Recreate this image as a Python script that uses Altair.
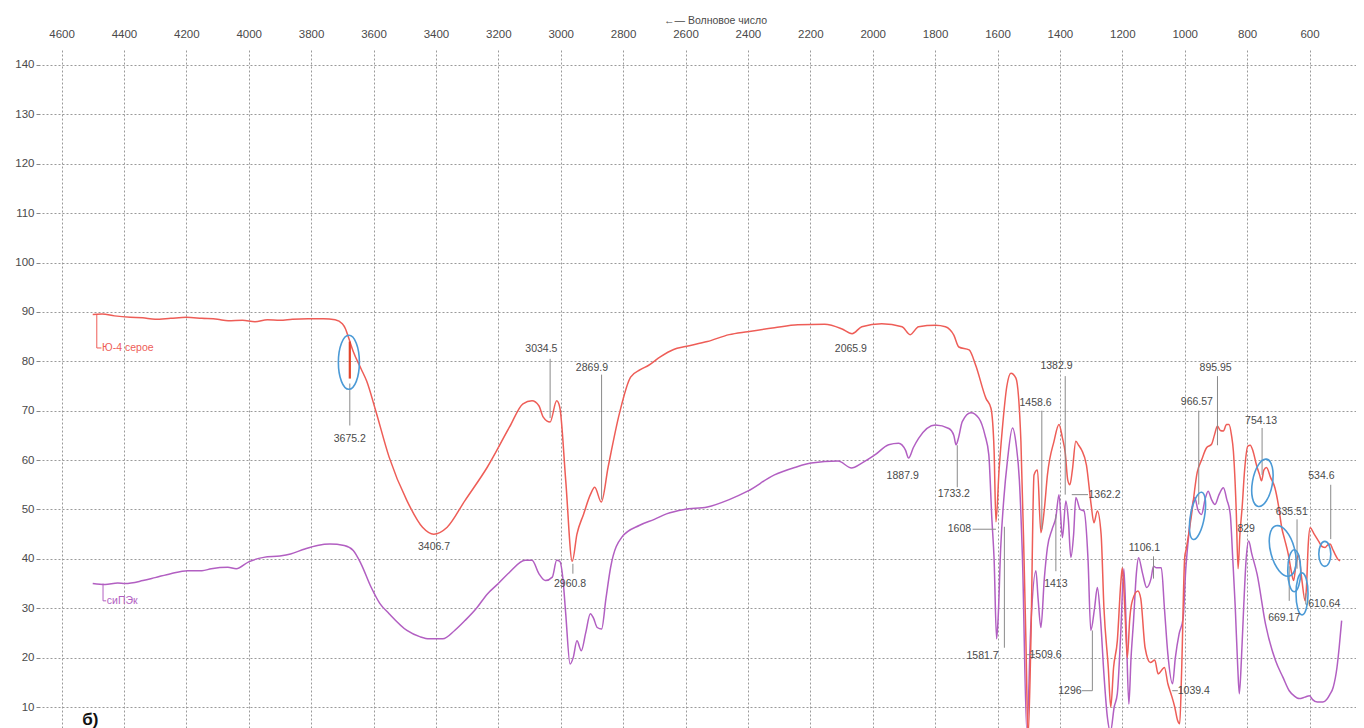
import altair as alt
import pandas as pd

# ---------------- data ----------------
red_wn = [4500, 4470, 4430, 4380, 4340, 4300, 4250, 4200, 4150, 4100, 4066, 4020, 3980, 3940, 3900, 3860,
          3809, 3760, 3723, 3700, 3690, 3680, 3665, 3640, 3622, 3593, 3550, 3493, 3443, 3407,
          3364, 3307, 3235, 3164, 3121, 3092, 3070, 3056, 3034, 3013, 3003, 2984, 2963, 2948, 2927, 2905,
          2891, 2870, 2848, 2812, 2776, 2745, 2718, 2681, 2638, 2600, 2530, 2460, 2401, 2315, 2240, 2154,
          2100, 2066, 2035, 1971, 1906, 1880, 1853, 1799, 1767, 1740, 1724, 1691, 1670, 1637, 1621, 1611,
          1605, 1595, 1585, 1570, 1557, 1541, 1525, 1515, 1509, 1502, 1493, 1483, 1472, 1461, 1450, 1440,
          1419, 1403, 1392, 1383, 1375, 1368, 1360, 1349, 1340, 1330, 1315, 1300, 1291, 1280, 1268, 1259,
          1245, 1237, 1228, 1216, 1205, 1200, 1192, 1184, 1176, 1168, 1150, 1141, 1127, 1110, 1096, 1085,
          1065, 1054, 1044, 1032, 1023, 1016, 1010, 1000, 995, 978, 960, 946, 930, 914, 905, 895,
          886, 876, 866, 858, 850, 844, 835, 829, 823, 816, 808, 798, 790, 781, 770, 760,
          754, 746, 738, 725, 711, 700, 689, 680, 668, 660, 651, 643, 635, 625, 614, 610,
          604, 598, 585, 571, 560, 550, 542, 534, 526, 518, 510, 502]
red_t = [89.5, 89.6, 89.2, 88.9, 88.8, 88.5, 88.7, 88.9, 88.7, 88.5, 88.2, 88.3, 88.0, 88.4, 88.3, 88.5,
         88.6, 88.6, 88.4, 87.6, 86.6, 84.8, 82.0, 78.5, 76.0, 70.0, 60.6, 51.8, 46.4, 45.0,
         46.4, 51.8, 58.6, 66.7, 71.4, 72.0, 71.0, 68.7, 67.7, 72.0, 70.7, 55.9, 39.5, 45.0, 49.0, 53.0,
         54.5, 51.5, 58.6, 69.4, 76.8, 78.3, 79.2, 80.9, 82.4, 83.0, 84.0, 85.4, 86.0, 86.8, 87.4, 87.5,
         86.6, 85.6, 87.0, 87.6, 87.0, 85.4, 87.0, 87.3, 87.0, 85.3, 82.9, 82.3, 79.2, 72.5, 70.5, 62.0,
         47.5, 58.0, 66.0, 75.0, 77.6, 76.6, 63.8, 40.0, 23.4, 4.0, 23.4, 57.0, 58.0, 45.3, 50.0, 57.0,
         63.8, 67.2, 64.5, 61.5, 56.0, 55.0, 58.0, 63.8, 63.0, 62.0, 59.0, 51.0, 47.3, 49.7, 45.0, 30.2,
         18.0, 10.0, 18.0, 23.4, 35.0, 38.2, 30.0, 20.0, 28.0, 31.5, 33.5, 32.0, 22.0, 19.0, 19.5, 16.7,
         18.0, 14.7, 12.7, 10.0, 7.3, 6.6, 17.0, 40.3, 42.0, 49.0, 57.5, 60.0, 62.5, 63.2, 65.0, 66.9,
         66.0, 65.9, 67.2, 67.2, 65.0, 61.8, 50.0, 38.0, 45.0, 50.4, 58.0, 62.8, 63.0, 61.8, 59.0, 57.0,
         55.8, 58.0, 58.5, 56.5, 54.4, 51.0, 46.3, 44.0, 40.9, 38.0, 35.6, 39.0, 40.9, 36.0, 31.5, 34.0,
         43.0, 46.3, 45.0, 43.6, 42.5, 42.3, 42.8, 43.0, 42.0, 40.9, 40.0, 39.6]

purple_wn = [4500, 4460, 4420, 4396, 4339, 4300, 4250, 4196, 4150, 4120, 4067, 4040, 4000, 3952, 3900, 3866,
             3820, 3780, 3740, 3694, 3665, 3640, 3608, 3580, 3550, 3493, 3450, 3421, 3378, 3340, 3307, 3270,
             3235, 3200, 3164, 3114, 3092, 3070, 3049, 3027, 3013, 3003, 2993, 2984, 2970, 2960, 2948, 2934,
             2920, 2905, 2895, 2883, 2869, 2855, 2840, 2804, 2747, 2700, 2661, 2604, 2530, 2460, 2401, 2315,
             2250, 2197, 2111, 2068, 2035, 1992, 1949, 1917, 1895, 1885, 1870, 1853, 1799, 1756, 1740, 1733,
             1725, 1713, 1685, 1660, 1640, 1628, 1618, 1611, 1603, 1598, 1590, 1580, 1568, 1552, 1540, 1530,
             1520, 1506, 1493, 1477, 1470, 1461, 1450, 1440, 1425, 1413, 1403, 1392, 1381, 1373, 1365, 1356,
             1349, 1335, 1323, 1310, 1301, 1289, 1280, 1270, 1259, 1248, 1238, 1226, 1216, 1205, 1195, 1187,
             1179, 1172, 1164, 1155, 1148, 1135, 1122, 1108, 1100, 1091, 1075, 1065, 1054, 1039, 1030, 1018,
             1005, 997, 989, 980, 968, 958, 946, 935, 925, 914, 903, 890, 876, 865, 854, 846,
             838, 830, 825, 818, 811, 803, 795, 785, 768, 741, 709, 685, 665, 650, 633, 615,
             600, 590, 575, 557, 545, 535, 524, 512, 505, 497]
purple_t = [35.0, 34.8, 35.1, 35.0, 35.6, 36.2, 37.0, 37.6, 37.6, 38.0, 38.3, 38.0, 39.4, 40.3, 40.6, 41.0,
            42.0, 42.7, 43.0, 42.7, 41.7, 39.0, 34.3, 31.0, 28.9, 25.5, 24.2, 23.8, 23.8, 25.5, 27.5, 30.0,
            32.9, 35.0, 37.3, 39.7, 39.7, 37.0, 35.6, 36.3, 39.7, 39.5, 36.0, 28.9, 18.7, 20.0, 23.4, 21.4,
            25.0, 28.9, 28.0, 26.1, 25.8, 32.0, 38.3, 44.4, 46.8, 48.0, 49.1, 50.0, 50.5, 52.0, 53.7, 57.0,
            58.5, 59.4, 59.8, 58.4, 59.4, 61.1, 63.1, 63.4, 62.0, 60.4, 62.5, 64.4, 67.1, 66.4, 65.0, 63.1,
            64.5, 67.8, 69.6, 68.5, 65.0, 61.1, 48.0, 40.0, 23.8, 28.0, 42.0, 52.0, 60.0, 66.5, 63.0, 56.0,
            40.0, 5.0, 26.8, 37.6, 32.0, 26.1, 36.0, 42.3, 46.0, 48.4, 53.0, 44.3, 51.7, 48.0, 40.3, 45.0,
            52.4, 50.0, 49.7, 40.0, 25.5, 30.0, 34.2, 28.0, 16.7, 8.0, 5.0, 10.0, 12.7, 25.0, 38.0, 25.0,
            10.6, 20.0, 27.5, 37.0, 40.2, 37.0, 34.2, 36.0, 38.5, 38.2, 38.2, 30.0, 20.7, 14.7, 20.0, 24.8,
            28.0, 37.5, 43.6, 49.0, 52.4, 50.0, 49.0, 52.0, 53.7, 52.0, 51.0, 53.0, 54.4, 52.0, 49.0, 40.0,
            30.2, 18.0, 12.7, 20.0, 30.2, 40.0, 43.6, 41.0, 36.9, 26.8, 19.4, 16.0, 13.3, 12.3, 11.7, 12.0,
            12.3, 11.5, 11.0, 11.0, 11.5, 12.5, 14.0, 18.0, 22.0, 27.5]

series_names = ["Ю-4 серое", "сиПЭк"]

x_ticks = [4600, 4400, 4200, 4000, 3800, 3600, 3400, 3200, 3000, 2800, 2600, 2400, 2200, 2000,
           1800, 1600, 1400, 1200, 1000, 800, 600]
y_ticks = [10, 20, 30, 40, 50, 60, 70, 80, 90, 100, 110, 120, 130, 140]

peak_labels = ["3675.2", "3406.7", "3034.5", "2869.9", "2960.8", "2065.9", "1887.9", "1733.2",
               "1608", "1581.7", "1509.6", "1458.6", "1382.9", "1362.2", "1413", "1296", "1106.1",
               "1039.4", "966.57", "895.95", "829", "754.13", "635.51", "669.17", "534.6"]
peak_label_wn = [3676, 3406, 3062, 2900, 2970, 2070, 1904, 1740, 1722, 1648, 1446, 1478, 1411, 1257,
                 1413, 1368, 1129, 971, 961, 901, 803, 755, 657, 681, 562]
peak_label_t = [64.3, 42.4, 82.5, 78.7, 34.9, 82.4, 56.7, 53.2, 46.0, 20.4, 20.6, 71.6, 79.0, 53.0,
                35.0, 13.3, 42.2, 13.3, 71.7, 78.7, 46.0, 68.0, 49.4, 28.0, 56.8]

# left-aligned labels
side_labels = ["610.64"]
side_label_wn = [604]
side_label_t = [30.8]

# leader lines (wn1, t1, wn2, t2)
lead_wn1 = [3676, 3034, 2869, 2961, 1729, 1680, 1578, 1505, 1458, 1383, 1362, 1413, 1330, 1296,
            1100, 1040, 955, 895, 752, 640, 665, 612, 612, 532]
lead_t1 = [75.5, 80.5, 77.3, 39.0, 63.0, 46.0, 46.5, 20.6, 70.0, 77.0, 53.0, 37.5, 13.3, 13.3,
           40.5, 13.3, 70.0, 77.0, 66.5, 48.0, 31.5, 33.0, 30.8, 55.0]
lead_wn2 = [3676, 3034, 2869, 2961, 1729, 1605, 1578, 1480, 1458, 1383, 1310, 1413, 1296, 1296,
            1100, 1022, 955, 895, 752, 640, 665, 612, 606, 532]
lead_t2 = [67.0, 68.5, 52.0, 37.0, 54.5, 46.0, 22.0, 20.6, 46.0, 53.0, 53.0, 49.0, 13.3, 25.5,
           36.0, 13.3, 51.0, 63.0, 57.0, 38.0, 38.5, 30.8, 30.8, 44.0]

# the short marked band inside the first ellipse
spike_wn = [3676]
spike_t1 = [84.0]
spike_t2 = [76.5]

# series-name callouts
name_wn = [4470, 4455]
name_t = [82.7, 31.5]
name_lead_wn1 = [4487, 4487, 4467, 4467]
name_lead_t1 = [89.5, 82.7, 35.0, 31.5]
name_lead_wn2 = [4487, 4472, 4467, 4457]
name_lead_t2 = [82.7, 82.7, 31.5, 31.5]
name_lead_series = ["Ю-4 серое", "Ю-4 серое", "сиПЭк", "сиПЭк"]

# blue marking ellipses: centre and rough aspect
ell_wn = [3679, 959, 751, 686, 649, 624, 551]
ell_t = [79.8, 48.7, 55.4, 41.6, 37.6, 32.9, 41.0]
ell_h = [54, 48, 48, 52, 42, 42, 25]
ell_w = [21, 14, 20, 24, 13, 12, 12]
ell_angle = [0, 10, 10, 345, 0, 0, 0]

panel_label = "б)"

# ---------------- build frames ----------------
RED = "#ee5d57"
SPIKE = "#e2452a"
PURPLE = "#b25fc2"
BLUE = "#4b9ad6"
TXT = "#4a4a4a"
FONT = "Liberation Sans Narrow, Liberation Sans, Arial, sans-serif"

curves = pd.concat([
    pd.DataFrame({"wn": purple_wn, "t": purple_t, "s": series_names[1]}),
    pd.DataFrame({"wn": red_wn, "t": red_t, "s": series_names[0]}),
])

labels_df = pd.DataFrame({"wn": peak_label_wn, "t": peak_label_t, "txt": peak_labels})
side_df = pd.DataFrame({"wn": side_label_wn, "t": side_label_t, "txt": side_labels})
lead_df = pd.DataFrame({"x": lead_wn1, "y": lead_t1, "x2": lead_wn2, "y2": lead_t2})
spike_df = pd.DataFrame({"x": spike_wn, "y": spike_t1, "y2": spike_t2})
name_df = pd.DataFrame({"wn": name_wn, "t": name_t, "txt": series_names})
name_lead_df = pd.DataFrame({"x": name_lead_wn1, "y": name_lead_t1, "x2": name_lead_wn2,
                             "y2": name_lead_t2, "s": name_lead_series})


def ellipse_path(w, h):
    a = w / h
    return f"M0,-1A{a:.3f},1 0 1,1 0,1A{a:.3f},1 0 1,1 0,-1Z"


ell_df = pd.DataFrame({
    "wn": ell_wn, "t": ell_t,
    "shape": [ellipse_path(w, h) for w, h in zip(ell_w, ell_h)],
    "size": [h * h for h in ell_h],
    "angle": ell_angle,
})
panel_df = pd.DataFrame({"wn": [4508], "t": [7.4], "txt": [panel_label]})

xscale = alt.Scale(domain=[451, 4669], reverse=True, nice=False, zero=False)
yscale = alt.Scale(domain=[5.75, 143.44], nice=False, zero=False)

color_scale = alt.Scale(domain=series_names, range=[RED, PURPLE])

x_axis = alt.Axis(orient="top", values=x_ticks, format="d", grid=True, ticks=False, domain=False,
                  labelPadding=9, labelFontSize=11.5, labelColor=TXT, labelFont=FONT,
                  gridColor="#9a9a9a", gridDash=[2, 2], gridWidth=1,
                  title="←— Волновое число", titleFont=FONT, titleFontSize=10.5,
                  titleFontWeight="normal", titleColor=TXT, titleX=675, titleY=-28,
                  titleBaseline="middle", titleAlign="center", titleAnchor="start")
y_axis = alt.Axis(values=y_ticks, grid=True, ticks=True, tickSize=4, tickColor="#888", domain=False,
                  labelPadding=2, labelFontSize=11.5, labelColor=TXT, labelFont=FONT,
                  gridColor="#9a9a9a", gridDash=[2, 2], gridWidth=1, title=None)

base_x = alt.X("wn:Q", scale=xscale, axis=x_axis)
base_y = alt.Y("t:Q", scale=yscale, axis=y_axis)

lines = alt.Chart(curves).mark_line(strokeWidth=1.5, clip=True, interpolate="monotone").encode(
    x=base_x, y=base_y,
    color=alt.Color("s:N", scale=color_scale, legend=None),
    detail="s:N",
    order=alt.Order("wn:Q", sort="descending"),
)

X = lambda f: alt.X(f, type="quantitative", scale=xscale)
Y = lambda f: alt.Y(f, type="quantitative", scale=yscale)

leaders = alt.Chart(lead_df).mark_rule(color="#8a8a8a", strokeWidth=1).encode(
    x=X("x"), y=Y("y"), x2="x2", y2="y2")

spike = alt.Chart(spike_df).mark_rule(color=SPIKE, strokeWidth=2.2).encode(
    x=X("x"), y=Y("y"), y2="y2")

name_leaders = alt.Chart(name_lead_df).mark_rule(strokeWidth=1).encode(
    x=X("x"), y=Y("y"), x2="x2", y2="y2",
    color=alt.Color("s:N", scale=color_scale, legend=None))

peak_text = alt.Chart(labels_df).mark_text(font=FONT, fontSize=10.5, color=TXT, align="center",
                                           baseline="middle").encode(
    x=X("wn"), y=Y("t"), text="txt:N")

side_text = alt.Chart(side_df).mark_text(font=FONT, fontSize=10.5, color=TXT, align="left",
                                         baseline="middle").encode(
    x=X("wn"), y=Y("t"), text="txt:N")

name_text = alt.Chart(name_df).mark_text(font=FONT, fontSize=10.5, align="left",
                                         baseline="middle").encode(
    x=X("wn"), y=Y("t"), text="txt:N",
    color=alt.Color("txt:N", scale=color_scale, legend=None))

ellipses = alt.Chart(ell_df).mark_point(filled=False, color=BLUE, strokeWidth=1.6, opacity=1).encode(
    x=X("wn"), y=Y("t"),
    shape=alt.Shape("shape:N", scale=None),
    size=alt.Size("size:Q", scale=None),
    angle=alt.Angle("angle:Q", scale=None),
)

panel = alt.Chart(panel_df).mark_text(font="Liberation Sans, Arial, sans-serif", fontSize=17,
                                      fontWeight="bold", color="#111", align="center",
                                      baseline="middle").encode(
    x=X("wn"), y=Y("t"), text="txt:N")

chart = alt.layer(lines, leaders, spike, name_leaders, ellipses, peak_text, side_text, name_text,
                  panel).properties(
    width=1316, height=680,
    autosize=alt.AutoSizeParams(type="none"),
    padding={"left": 32, "top": 40, "right": 0, "bottom": 0},
    background="white",
).configure_view(strokeWidth=0)

chart.save("out.html", embed_options={"renderer": "svg", "actions": False})
